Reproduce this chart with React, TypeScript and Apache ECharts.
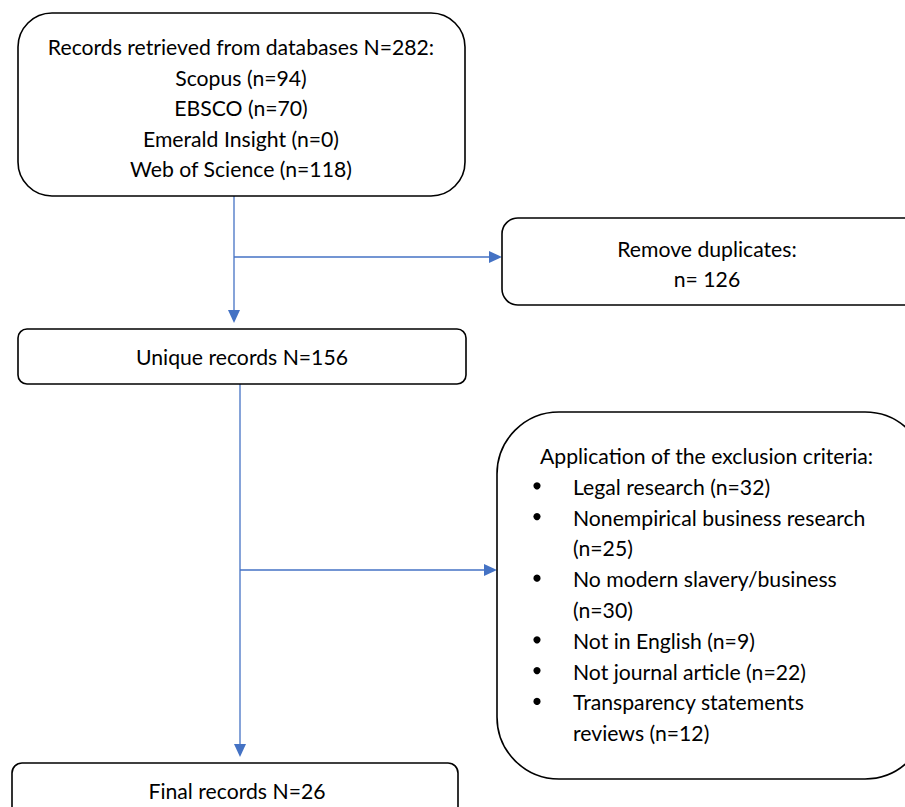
import React, { useEffect, useRef } from "react";
import * as echarts from "echarts";

const box1Lines = [
  "Records retrieved from databases N=282:",
  "Scopus (n=94)",
  "EBSCO (n=70)",
  "Emerald Insight (n=0)",
  "Web of Science (n=118)",
];
const box2Lines = ["Remove duplicates:", "n= 126"];
const box3Lines = ["Unique records N=156"];
const exclusionTitle = "Application of the exclusion criteria:";
const exclusionItems = [
  ["Legal research (n=32)"],
  ["Nonempirical business research", "(n=25)"],
  ["No modern slavery/business", "(n=30)"],
  ["Not in English (n=9)"],
  ["Not journal article (n=22)"],
  ["Transparency statements", "reviews (n=12)"],
];
const box5Lines = ["Final records N=26"];

const FONT = "Lato";
const FS = 21.2;
const BLUE = "#4472C4";

function centeredText(lines: string[], cx: number, y0: number, step: number) {
  return lines.map((t, i) => ({
    type: "text",
    style: {
      text: t,
      x: cx,
      y: y0 + i * step,
      align: "center",
      verticalAlign: "middle",
      fontFamily: FONT,
      fontSize: FS,
      fill: "#000",
    },
  }));
}

function box(x: number, y: number, w: number, h: number, r: number) {
  return {
    type: "rect",
    shape: { x, y, width: w, height: h, r },
    style: { fill: "#fff", stroke: "#000", lineWidth: 1.6 },
  };
}

function vArrow(x: number, y1: number, y2: number) {
  return [
    { type: "line", shape: { x1: x, y1, x2: x, y2: y2 - 10 }, style: { stroke: BLUE, lineWidth: 1.3 } },
    { type: "polygon", shape: { points: [[x - 6, y2 - 13], [x + 6, y2 - 13], [x, y2]] }, style: { fill: BLUE } },
  ];
}

function hArrow(y: number, x1: number, x2: number) {
  return [
    { type: "line", shape: { x1, y1: y, x2: x2 - 10, y2: y }, style: { stroke: BLUE, lineWidth: 1.3 } },
    { type: "polygon", shape: { points: [[x2 - 13, y - 6], [x2 - 13, y + 6], [x2, y]] }, style: { fill: BLUE } },
  ];
}

export default function App() {
  const ref = useRef<HTMLDivElement>(null);
  useEffect(() => {
    const chart = echarts.init(ref.current!, undefined, { renderer: "svg" });
    const elements: any[] = [];
    // connectors
    elements.push(...vArrow(234, 196, 323));
    elements.push(...hArrow(257, 234, 502));
    elements.push(...vArrow(240, 384, 757));
    elements.push(...hArrow(570, 240, 497));
    // boxes
    elements.push(box(18, 13, 447, 183, 34));
    elements.push(...centeredText(box1Lines, 241, 47, 30.5));
    elements.push(box(502, 218, 420, 87, 16));
    elements.push(...centeredText(box2Lines, 707, 249, 30));
    elements.push(box(18, 329, 448, 55, 9));
    elements.push(...centeredText(box3Lines, 242, 357, 30));
    elements.push(box(497, 412, 430, 367, 62));
    elements.push({
      type: "text",
      style: { text: exclusionTitle, x: 540, y: 456, verticalAlign: "middle", fontFamily: FONT, fontSize: FS, fill: "#000" },
    });
    let row = 1;
    exclusionItems.forEach((item) => {
      const yb = 455 + row * 30.8;
      elements.push({ type: "circle", shape: { cx: 537, cy: yb, r: 3.6 }, style: { fill: "#000" } });
      item.forEach((t) => {
        elements.push({
          type: "text",
          style: { text: t, x: 573, y: 456 + row * 30.8, verticalAlign: "middle", fontFamily: FONT, fontSize: FS, fill: "#000" },
        });
        row++;
      });
    });
    elements.push(box(12, 763, 446, 80, 10));
    elements.push(...centeredText(box5Lines, 237, 791, 30));

    chart.setOption({
      animation: false,
      backgroundColor: "#fff",
      graphic: { elements },
    });
    return () => chart.dispose();
  }, []);
  return <div ref={ref} style={{ position: "fixed", left: 0, top: 0, width: 905, height: 807 }} />;
}
